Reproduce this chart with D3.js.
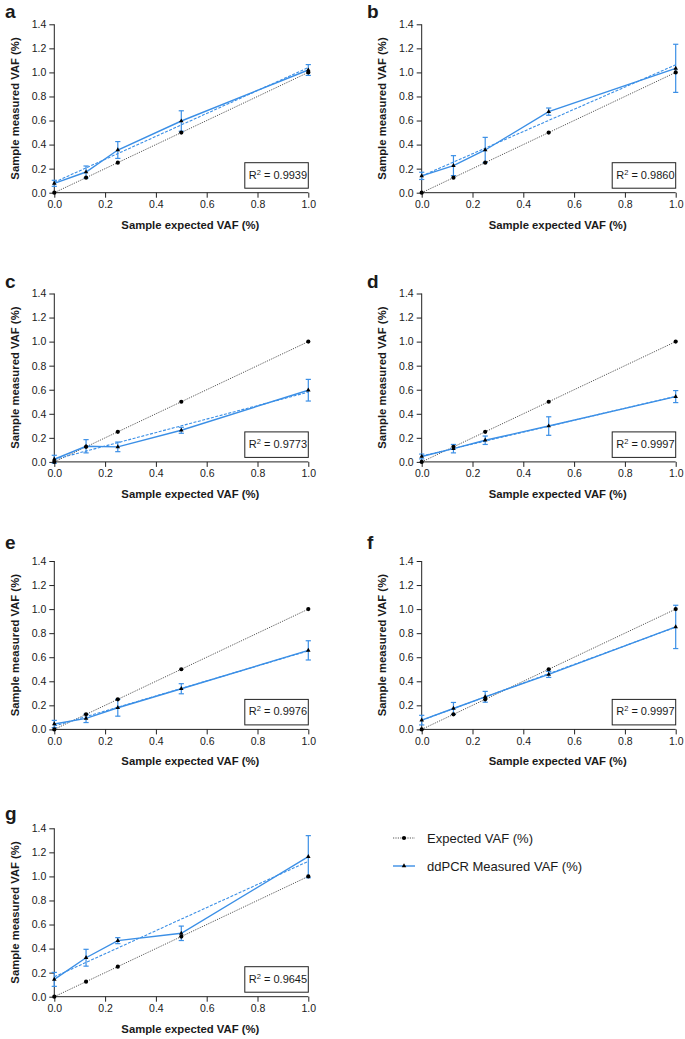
<!DOCTYPE html>
<html>
<head>
<meta charset="utf-8">
<script src="https://cdn.jsdelivr.net/npm/d3@7"></script>
<style>
    body { margin: 0; background: #fff; }
    svg text { font-family: "Liberation Sans", Arial, Helvetica, sans-serif; fill: #1a1a1a; }
</style>
</head>
<body>
<div id="chart"></div>
<script>
// ---- data ----
var panelNames = ["a", "b", "c", "d", "e", "f", "g"];
var expectedVAF = [0, 0.125, 0.25, 0.5, 1.0];

var measuredA = [0.078, 0.172, 0.355, 0.596, 1.02];
var measuredB = [0.14, 0.225, 0.355, 0.674, 1.034];
var measuredC = [0.022, 0.13, 0.125, 0.263, 0.596];
var measuredD = [0.045, 0.11, 0.18, 0.298, 0.543];
var measuredE = [0.045, 0.092, 0.18, 0.338, 0.657];
var measuredF = [0.077, 0.174, 0.271, 0.457, 0.852];
var measuredG = [0.144, 0.324, 0.466, 0.527, 1.164];

var errorA = [0.025, 0.05, 0.07, 0.085, 0.045];
var errorB = [0.03, 0.083, 0.105, 0.03, 0.2];
var errorC = [0.033, 0.055, 0.04, 0.025, 0.09];
var errorD = [0.02, 0.035, 0.035, 0.077, 0.05];
var errorE = [0.03, 0.035, 0.07, 0.042, 0.08];
var errorF = [0.04, 0.05, 0.045, 0.025, 0.18];
var errorG = [0.058, 0.07, 0.025, 0.06, 0.175];

// linear fit, value at x = 0 and at x = 1
var fitStart = [0.087, 0.139, 0.02, 0.049, 0.028, 0.076, 0.165];
var fitEnd = [1.04, 1.063, 0.58, 0.545, 0.653, 0.85, 1.125];
var rSquared = ["0.9939", "0.9860", "0.9773", "0.9997", "0.9976", "0.9997", "0.9645"];

var xTicks = [0, 0.2, 0.4, 0.6, 0.8, 1.0];
var yTicks = [0, 0.2, 0.4, 0.6, 0.8, 1.0, 1.2, 1.4];
var legendLabels = ["Expected VAF (%)", "ddPCR Measured VAF (%)"];

var measured = [measuredA, measuredB, measuredC, measuredD, measuredE, measuredF, measuredG];
var errors = [errorA, errorB, errorC, errorD, errorE, errorF, errorG];

// ---- layout ----
var W = 685, H = 1039;
var colLeft = [54.3, 421.7];
var rowTop = [24.3, 293.5, 561, 828.3];
var letterBase = [18, 17.5, 287.5, 287.5, 549, 549, 820];
var plotW = 254, plotH = 168.4;
var blue = "#3b8fe6";

var svg = d3.select("#chart").append("svg")
    .attr("width", W)
    .attr("height", H);

var x = d3.scaleLinear().domain([0, 1]).range([0, plotW]);
var y = d3.scaleLinear().domain([0, 1.4]).range([plotH, 0]);

var line = d3.line()
    .x(function(d) { return x(d[0]); })
    .y(function(d) { return y(d[1]); });

panelNames.forEach(function(name, i) {
    var left = colLeft[i % 2];
    var top = rowTop[Math.floor(i / 2)];
    var g = svg.append("g").attr("transform", "translate(" + left + "," + top + ")");

    svg.append("text")
        .attr("x", i % 2 == 0 ? 5 : 367)
        .attr("y", letterBase[i])
        .style("font-size", "19px")
        .style("font-weight", "bold")
        .text(name);

    // axes
    var xAxis = g.append("g")
        .attr("transform", "translate(0," + plotH + ")")
        .call(d3.axisBottom(x).tickValues(xTicks).tickSize(5).tickPadding(3)
            .tickFormat(d3.format(".1f")));
    var yAxis = g.append("g")
        .call(d3.axisLeft(y).tickValues(yTicks).tickSize(5).tickPadding(3)
            .tickFormat(d3.format(".1f")));
    [xAxis, yAxis].forEach(function(ax) {
        ax.select(".domain").attr("stroke", "#222").attr("stroke-width", 1);
        ax.selectAll(".tick line").attr("stroke", "#222").attr("stroke-width", 1);
        ax.selectAll(".tick text")
            .style("font-size", "10.5px")
            .style("font-family", "'Liberation Sans', Arial, sans-serif")
            .attr("fill", "#1a1a1a");
    });
    xAxis.select(".domain").attr("d", "M0,0H" + plotW);
    yAxis.select(".domain").attr("d", "M0," + plotH + "V0");

    g.append("text")
        .attr("x", plotW / 2 + 9)
        .attr("y", plotH + 36)
        .attr("text-anchor", "middle")
        .style("font-size", "11.3px")
        .style("font-weight", "bold")
        .text("Sample expected VAF (%)");

    g.append("text")
        .attr("transform", "translate(-35.5," + (plotH / 2) + ") rotate(-90)")
        .attr("text-anchor", "middle")
        .style("font-size", "11.3px")
        .style("font-weight", "bold")
        .text("Sample measured VAF (%)");

    // expected (identity) line
    var expPts = expectedVAF.map(function(v) { return [v, v]; });
    g.append("path")
        .attr("d", line(expPts))
        .attr("fill", "none")
        .attr("stroke", "#444")
        .attr("stroke-width", 0.9)
        .attr("stroke-dasharray", "1.2,1.2");

    // fit line
    g.append("path")
        .attr("d", line([[0, fitStart[i]], [1, fitEnd[i]]]))
        .attr("fill", "none")
        .attr("stroke", blue)
        .attr("stroke-width", 1.1)
        .attr("stroke-dasharray", "3,1.5");

    // measured line
    var mPts = expectedVAF.map(function(v, j) { return [v, measured[i][j]]; });
    g.append("path")
        .attr("d", line(mPts))
        .attr("fill", "none")
        .attr("stroke", blue)
        .attr("stroke-width", 1.4);

    // error bars
    var eb = g.selectAll(".err").data(mPts).enter().append("g");
    eb.append("line")
        .attr("x1", function(d) { return x(d[0]); })
        .attr("x2", function(d) { return x(d[0]); })
        .attr("y1", function(d, j) { return y(d[1] + errors[i][j]); })
        .attr("y2", function(d, j) { return y(d[1] - errors[i][j]); })
        .attr("stroke", blue).attr("stroke-width", 1.2);
    [1, -1].forEach(function(s) {
        eb.append("line")
            .attr("x1", function(d) { return x(d[0]) - 2.6; })
            .attr("x2", function(d) { return x(d[0]) + 2.6; })
            .attr("y1", function(d, j) { return y(d[1] + s * errors[i][j]); })
            .attr("y2", function(d, j) { return y(d[1] + s * errors[i][j]); })
            .attr("stroke", blue).attr("stroke-width", 1.2);
    });

    // markers
    g.selectAll(".exp").data(expPts).enter().append("circle")
        .attr("cx", function(d) { return x(d[0]); })
        .attr("cy", function(d) { return y(d[1]); })
        .attr("r", 2.1)
        .attr("fill", "#000");
    var tri = d3.symbol().type(d3.symbolTriangle).size(9);
    g.selectAll(".meas").data(mPts).enter().append("path")
        .attr("d", tri)
        .attr("transform", function(d) { return "translate(" + x(d[0]) + "," + y(d[1]) + ")"; })
        .attr("fill", "#000");

    // R squared box
    var bw = 63.5, bh = 25.5;
    g.append("rect")
        .attr("x", plotW - bw)
        .attr("y", plotH - 4.5 - bh)
        .attr("width", bw)
        .attr("height", bh)
        .attr("fill", "#fff")
        .attr("stroke", "#222")
        .attr("stroke-width", 1);
    var rt = g.append("text")
        .attr("x", plotW - bw + 4)
        .attr("y", plotH - 4.5 - bh + 16)
        .style("font-size", "11px");
    rt.append("tspan").text("R");
    rt.append("tspan").attr("dy", -4).style("font-size", "7.5px").text("2");
    rt.append("tspan").attr("dy", 4).text(" = " + rSquared[i]);
});

// legend
var legend = svg.append("g");
var legY = [838, 866];
legendLabels.forEach(function(lab, k) {
    var ly = legY[k];
    legend.append("line")
        .attr("x1", 393).attr("x2", 415)
        .attr("y1", ly).attr("y2", ly)
        .attr("stroke", k == 0 ? "#444" : blue)
        .attr("stroke-width", k == 0 ? 0.9 : 1.4)
        .attr("stroke-dasharray", k == 0 ? "1.2,1.2" : null);
    if (k == 0) {
        legend.append("circle").attr("cx", 404).attr("cy", ly).attr("r", 2.1).attr("fill", "#000");
    } else {
        legend.append("path")
            .attr("d", d3.symbol().type(d3.symbolTriangle).size(9))
            .attr("transform", "translate(404," + ly + ")")
            .attr("fill", "#000");
    }
    legend.append("text")
        .attr("x", 427)
        .attr("y", ly + 5)
        .style("font-size", "13px")
        .text(lab);
});
</script>
</body>
</html>
